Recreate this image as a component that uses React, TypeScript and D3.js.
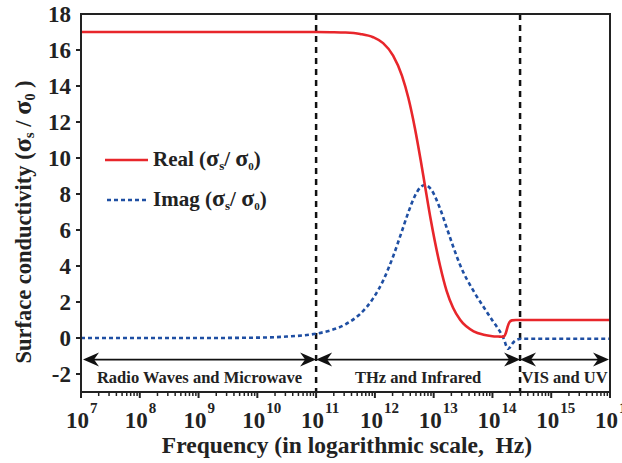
import React from "react";
import * as d3 from "d3";

const logFreq = [7, 9, 10, 10.5, 11, 11.25, 11.5, 11.75, 11.97, 12.14, 12.31, 12.46, 12.57, 12.68, 12.78, 12.85, 12.95, 13.11, 13.22, 13.33, 13.45, 13.68, 13.85, 14.0, 14.1, 14.16, 14.2, 14.23, 14.26, 14.29, 14.33, 14.4, 14.5, 15, 16];
const realVals = [17, 17, 17, 17, 17, 16.99, 16.97, 16.89, 16.71, 16.38, 15.69, 14.58, 13.33, 11.67, 9.86, 8.5, 6.58, 4.0, 2.62, 1.68, 1.01, 0.37, 0.18, 0.1, 0.08, 0.07, 0.1, 0.3, 0.65, 0.88, 0.98, 1.0, 1.0, 1.0, 1.0];
const imagVals = [0, 0, 0.02, 0.08, 0.24, 0.43, 0.76, 1.34, 2.2, 3.19, 4.53, 5.94, 6.99, 7.89, 8.39, 8.5, 8.28, 7.18, 6.14, 5.1, 4.05, 2.6, 1.72, 0.97, 0.5, 0.17, -0.1, -0.4, -0.6, -0.55, -0.35, -0.12, -0.04, -0.04, -0.04];

const yTicks = [-2, 0, 2, 4, 6, 8, 10, 12, 14, 16, 18];
const xDecades = [7, 8, 9, 10, 11, 12, 13, 14, 15, 16];
const bandEdges = [7, 11, 14.47, 16];
const bandLabels = ["Radio Waves and Microwave", "THz and Infrared", "VIS and UV"];

const W = 622;
const H = 463;
const margin = { top: 14, right: 12, bottom: 71, left: 81 };
const font = "'Liberation Serif', 'Times New Roman', serif";

const arrowHead = (tipX: number, yy: number, dir: number) => {
  const len = 16, half = 7, notch = 11;
  return `M${tipX},${yy} L${tipX - dir * len},${yy - half} L${tipX - dir * notch},${yy} L${tipX - dir * len},${yy + half} Z`;
};

export default function App() {
  const x = d3.scaleLog().domain([1e7, 1e16]).range([margin.left, W - margin.right]);
  const y = d3.scaleLinear().domain([-3, 18]).range([H - margin.bottom, margin.top]);
  const x0 = margin.left, x1 = W - margin.right, y0 = H - margin.bottom, y1 = margin.top;

  const line = d3.line<number>()
    .x((_, i) => x(Math.pow(10, logFreq[i])))
    .y(d => y(d))
    .curve(d3.curveMonotoneX);

  const minor: number[] = [];
  for (let d = 7; d < 16; d++) for (let k = 2; k <= 9; k++) minor.push(k * Math.pow(10, d));

  const arrowY = y(-1.2);

  return (
    <svg width={W} height={H} style={{ position: "absolute", left: 0, top: 0, background: "#fff" }}
      fontFamily={font} fontWeight="bold">
      <defs>
        <clipPath id="plot"><rect x={x0} y={y1} width={x1 - x0} height={y0 - y1} /></clipPath>
      </defs>

      {/* region separators */}
      {bandEdges.slice(1, -1).map(e => (
        <line key={e} x1={x(Math.pow(10, e))} x2={x(Math.pow(10, e))} y1={y1} y2={y0}
          stroke="#111" strokeWidth={2.5} strokeDasharray="6,5" />
      ))}

      {/* band arrows */}
      {bandLabels.map((lab, i) => {
        const a = i === 0 ? x0 + 2 : x(Math.pow(10, bandEdges[i]));
        const b = i === bandLabels.length - 1 ? x1 - 1 : x(Math.pow(10, bandEdges[i + 1]));
        return (
          <g key={lab}>
            <line x1={a + 10} x2={b - 10} y1={arrowY} y2={arrowY} stroke="#111" strokeWidth={1.8} />
            <path d={arrowHead(a, arrowY, -1)} fill="#111" />
            <path d={arrowHead(b, arrowY, 1)} fill="#111" />
            <text x={(a + b) / 2} y={arrowY + 23} textAnchor="middle" fontSize={16.5} fill="#222">{lab}</text>
          </g>
        );
      })}

      {/* curves */}
      <g clipPath="url(#plot)" fill="none">
        <path d={line(imagVals) || ""} stroke="#1f4fa3" strokeWidth={2.6} strokeDasharray="4,3" />
        <path d={line(realVals) || ""} stroke="#e8262b" strokeWidth={2.6} />
      </g>

      {/* frame */}
      <rect x={x0} y={y1} width={x1 - x0} height={y0 - y1} fill="none" stroke="#222" strokeWidth={2} />

      {/* y axis */}
      {yTicks.map(t => (
        <g key={t}>
          {t < 18 && <line x1={x0 - 5} x2={x0} y1={y(t)} y2={y(t)} stroke="#222" strokeWidth={2} />}
          <text x={x0 - 10} y={y(t)} dy="0.35em" textAnchor="end" fontSize={23} fill="#222">{t}</text>
        </g>
      ))}

      {/* x axis */}
      {minor.map(m => (
        <line key={m} x1={x(m)} x2={x(m)} y1={y0} y2={y0 + 4} stroke="#222" strokeWidth={1.5} />
      ))}
      {xDecades.map(d => {
        const px = x(Math.pow(10, d));
        return (
          <g key={d}>
            <line x1={px} x2={px} y1={y0} y2={y0 + 6} stroke="#222" strokeWidth={2} />
            <text x={px + 8} y={428} textAnchor="end" fontSize={23} fill="#222">10</text>
            <text x={px + 9} y={413} textAnchor="start" fontSize={15} fill="#222">{d}</text>
          </g>
        );
      })}

      <text x={347} y={453} textAnchor="middle" fontSize={23.5} fill="#222">
        Frequency (in logarithmic scale,{"\u00a0\u00a0"}Hz)
      </text>

      <text transform={`translate(31,222) rotate(-90)`} textAnchor="middle" fontSize={22.5} fill="#222">
        Surface conductivity (<tspan fontSize={26}>σ</tspan><tspan fontSize={15} dy={3}>s</tspan>
        <tspan dy={-3}>{"\u00a0/\u00a0"}</tspan><tspan fontSize={26}>σ</tspan><tspan fontSize={14} dy={4}>0</tspan>
        <tspan dy={-4}>{"\u00a0)"}</tspan>
      </text>

      {/* legend */}
      <g fill="#222" fontSize={21}>
        <line x1={105} x2={148} y1={160} y2={160} stroke="#e8262b" strokeWidth={2.6} />
        <text x={153} y={166}>
          Real (<tspan fontSize={24}>σ</tspan><tspan fontSize={13} dy={4}>s</tspan><tspan dy={-4}>/ </tspan>
          <tspan fontSize={24}>σ</tspan><tspan fontSize={11} dy={4}>0</tspan><tspan dy={-4}>)</tspan>
        </text>
        <line x1={107} x2={148} y1={200} y2={200} stroke="#1f4fa3" strokeWidth={2.6} strokeDasharray="4,3" />
        <text x={153} y={206}>
          Imag (<tspan fontSize={24}>σ</tspan><tspan fontSize={13} dy={4}>s</tspan><tspan dy={-4}>/ </tspan>
          <tspan fontSize={24}>σ</tspan><tspan fontSize={11} dy={4}>0</tspan><tspan dy={-4}>)</tspan>
        </text>
      </g>
    </svg>
  );
}
